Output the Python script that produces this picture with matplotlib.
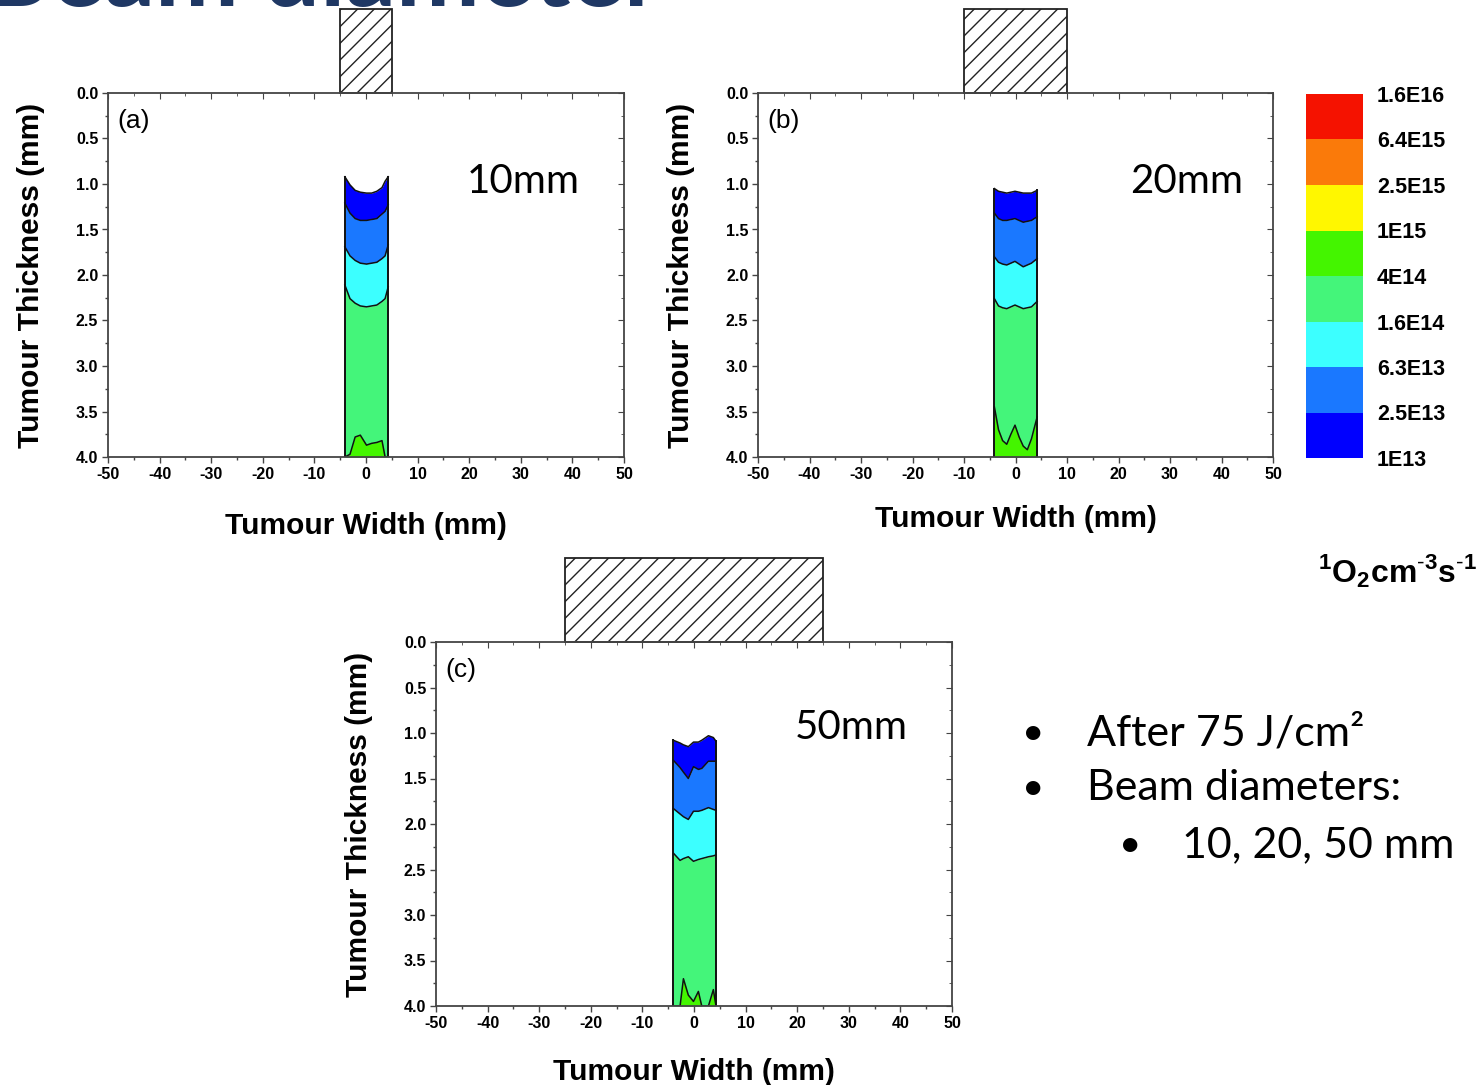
import numpy as np
import matplotlib
matplotlib.use('Agg')
import matplotlib.pyplot as plt
from matplotlib.colors import ListedColormap, BoundaryNorm
from matplotlib.cm import ScalarMappable
from matplotlib.patches import Rectangle
from matplotlib.ticker import MultipleLocator

plt.rcParams['font.family'] = 'Liberation Sans'
plt.rcParams['axes.unicode_minus'] = False
plt.rcParams['hatch.linewidth'] = 1.0
plt.rcParams['mathtext.fontset'] = 'custom'
plt.rcParams['mathtext.bf'] = 'Liberation Sans:bold'
plt.rcParams['mathtext.rm'] = 'Liberation Sans'

# colour scale (singlet oxygen production rate)
level_labels = ['1E13', '2.5E13', '6.3E13', '1.6E14', '4E14',
                '1E15', '2.5E15', '6.4E15', '1.6E16']
band_colors = ['#0000FF', '#1A78FF', '#3CFFFF', '#44F57A',
               '#44F500', '#FFF700', '#FA7A0A', '#F51200']

panel_tags = ['(a)', '(b)', '(c)']
beam_labels = ['10mm', '20mm', '50mm']
beam_diam = [10, 20, 50]

# contour boundaries: depth (mm) vs width (mm)
x_a = [-4.1, -3.1, -2.1, -1.1, 0.1, 1.1, 2.1, 3.1, 3.7, 4.3]
top_a = [0.92, 1.01, 1.07, 1.09, 1.10, 1.10, 1.08, 1.04, 0.97, 0.92]
b1_a = [1.21, 1.32, 1.38, 1.40, 1.40, 1.39, 1.38, 1.33, 1.30, 1.23]
b2_a = [1.69, 1.79, 1.84, 1.87, 1.88, 1.87, 1.86, 1.82, 1.79, 1.67]
b3_a = [2.11, 2.26, 2.31, 2.34, 2.35, 2.34, 2.33, 2.29, 2.26, 2.13]
b4_a = [4.0, 3.97, 3.78, 3.76, 3.87, 3.85, 3.84, 3.82, 4.0, 4.0]

x_b = [-4.1, -3.3, -2.5, -1.7, -0.9, -0.1, 0.7, 1.5, 2.3, 3.1, 4.2]
top_b = [1.05, 1.08, 1.09, 1.10, 1.09, 1.08, 1.09, 1.10, 1.10, 1.10, 1.07]
b1_b = [1.32, 1.38, 1.40, 1.40, 1.39, 1.38, 1.40, 1.42, 1.41, 1.40, 1.36]
b2_b = [1.80, 1.86, 1.88, 1.89, 1.87, 1.85, 1.88, 1.91, 1.89, 1.87, 1.82]
b3_b = [2.26, 2.34, 2.36, 2.37, 2.35, 2.33, 2.35, 2.37, 2.36, 2.35, 2.29]
b4_b = [3.45, 3.70, 3.82, 3.86, 3.75, 3.65, 3.78, 3.88, 3.92, 3.80, 3.56]

x_c = [-4.0, -2.7, -2.05, -1.1, -0.1, 0.85, 1.5, 2.8, 3.75, 4.26]
top_c = [1.08, 1.11, 1.13, 1.15, 1.10, 1.10, 1.08, 1.03, 1.05, 1.09]
b1_c = [1.30, 1.38, 1.43, 1.50, 1.37, 1.40, 1.39, 1.31, 1.31, 1.31]
b2_c = [1.83, 1.89, 1.92, 1.95, 1.86, 1.86, 1.85, 1.82, 1.84, 1.85]
b3_c = [2.32, 2.40, 2.38, 2.36, 2.41, 2.39, 2.38, 2.36, 2.35, 2.34]
b4_c = [4.0, 4.0, 3.70, 3.88, 3.95, 3.84, 4.0, 4.0, 3.82, 4.0]

panels = [
    (x_a, top_a, b1_a, b2_a, b3_a, b4_a),
    (x_b, top_b, b1_b, b2_b, b3_b, b4_b),
    (x_c, top_c, b1_c, b2_c, b3_c, b4_c),
]

W, H = 1481, 1085
fig = plt.figure(figsize=(W / 100, H / 100), dpi=100)


def px_axes(left, top, right, bottom):
    return fig.add_axes([left / W, 1 - bottom / H, (right - left) / W, (bottom - top) / H])


axes = [px_axes(108, 93, 624, 457), px_axes(758, 93, 1273, 457), px_axes(436, 642, 952, 1006)]
text_pos = [(0.805, 0.758), (0.833, 0.758), (0.804, 0.766)]
xlab_pad = [22, 17, 20]

for k, ax in enumerate(axes):
    x, top, b1, b2, b3, b4 = panels[k]
    bottom = [4.0] * len(x)
    bounds = [top, b1, b2, b3, bottom]
    for i in range(4):
        ax.fill_between(x, bounds[i], bounds[i + 1], color=band_colors[i], lw=0)
    ax.fill_between(x, b4, bottom, color=band_colors[4], lw=0)
    for b in [top, b1, b2, b3, b4]:
        ax.plot(x, b, color='#111111', lw=1.1)
    ax.plot([x[0], x[0]], [top[0], 4.0], color='#111111', lw=1.4)
    ax.plot([x[-1], x[-1]], [top[-1], 4.0], color='#111111', lw=1.4)

    ax.set_xlim(-50, 50)
    ax.set_ylim(4.0, 0.0)
    ax.set_xticks(np.arange(-50, 51, 10))
    ax.set_yticks(np.arange(0, 4.01, 0.5))
    ax.set_yticklabels(['%.1f' % v for v in np.arange(0, 4.01, 0.5)])
    ax.xaxis.set_minor_locator(MultipleLocator(5))
    ax.yaxis.set_minor_locator(MultipleLocator(0.25))
    ax.tick_params(which='both', direction='out', color='#444444', width=1.0)
    ax.tick_params(which='major', length=4, labelsize=11.5, pad=3)
    ax.tick_params(which='minor', length=2)
    for lab in ax.get_xticklabels() + ax.get_yticklabels():
        lab.set_fontweight('bold')
    for sp in ax.spines.values():
        sp.set_color('#444444')
        sp.set_linewidth(1.3)

    secx = ax.secondary_xaxis('top')
    secx.set_xticks(np.arange(-50, 51, 10))
    secx.xaxis.set_minor_locator(MultipleLocator(5))
    secx.tick_params(which='both', direction='in', labeltop=False, color='#444444')
    secx.tick_params(which='major', length=4)
    secx.tick_params(which='minor', length=2)
    secx.spines['top'].set_visible(False)
    secy = ax.secondary_yaxis('right')
    secy.set_yticks(np.arange(0, 4.01, 0.5))
    secy.yaxis.set_minor_locator(MultipleLocator(0.25))
    secy.tick_params(which='both', direction='in', labelright=False, color='#444444')
    secy.tick_params(which='major', length=4)
    secy.tick_params(which='minor', length=2)
    secy.spines['right'].set_visible(False)

    ax.set_xlabel('Tumour Width (mm)', fontsize=21.5, fontweight='bold', labelpad=xlab_pad[k])
    ax.set_ylabel('Tumour Thickness (mm)', fontsize=21.5, fontweight='bold', labelpad=22)

    ax.text(0.018, 0.955, panel_tags[k], transform=ax.transAxes, fontsize=19, va='top', ha='left')
    ax.text(text_pos[k][0], text_pos[k][1], beam_labels[k], transform=ax.transAxes,
            fontsize=29, family='Lato', ha='center', va='center')

    d = beam_diam[k]
    ax.add_patch(Rectangle((-d / 2, 0), d, -0.92, fill=False, hatch='//',
                           edgecolor='#222222', lw=1.3, clip_on=False))

# colour bar
cax = px_axes(1306, 94, 1363, 458)
cmap = ListedColormap(band_colors)
norm = BoundaryNorm(np.arange(len(level_labels)), cmap.N)
cb = fig.colorbar(ScalarMappable(norm=norm, cmap=cmap), cax=cax,
                  ticks=np.arange(len(level_labels)))
cb.set_ticklabels(level_labels)
cb.outline.set_visible(False)
cax.tick_params(length=0, pad=10, labelsize=15.5)
for lab in cax.get_yticklabels():
    lab.set_fontweight('bold')

fig.text(1397 / W, 1 - 571 / H,
         r'$^{\mathbf{1}}\mathbf{O}_{\mathbf{2}}\mathbf{cm}^{\mathbf{\text{-}3}}\mathbf{s}^{\mathbf{\text{-}1}}$',
         fontsize=23, ha='center', va='center')

# bullet text
bullets = [(1033, 1087, 733, 'After 75 J/cm²'),
           (1033, 1087, 788, 'Beam diameters:'),
           (1130, 1182, 845, '10, 20, 50 mm')]
for bx, tx, ty, s in bullets:
    fig.text(bx / W, 1 - ty / H, '•', fontsize=28, family='Lato', ha='center', va='center')
    fig.text(tx / W, 1 - ty / H, s, fontsize=31, family='Lato', ha='left', va='center')

# slide title, mostly cut off at the top edge
fig.text(-0.01, 1 - 6 / H, 'Beam diameter', fontsize=72, fontweight='bold',
         family='Lato', color='#1F3864', va='baseline', ha='left')

fig.savefig('out.png', dpi=100)
